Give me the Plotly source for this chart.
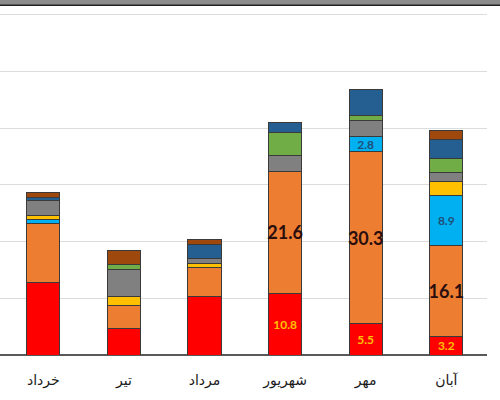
import plotly.graph_objects as go

months = ["خرداد", "تیر", "مرداد", "شهریور", "مهر", "آبان"]

red_vals    = [12.75, 4.73, 10.4, 10.8, 5.5, 3.2]
orange_vals = [10.35, 3.99, 5.06, 21.6, 30.3, 16.1]
cyan_vals   = [0.83, 0.0, 0.0, 0.0, 2.8, 8.9]
yellow_vals = [0.64, 1.59, 0.7, 0.0, 0.0, 2.35]
gray_vals   = [2.6, 4.85, 0.83, 2.7, 2.77, 1.66]
green_vals  = [0.0, 0.85, 0.0, 4.06, 0.88, 2.35]
blue_vals   = [0.65, 0.0, 2.47, 1.83, 4.59, 3.35]
brown_vals  = [0.88, 2.38, 0.83, 0.0, 0.0, 1.59]

red_show    = [False, False, False, True, True, True]
orange_show = [False, False, False, True, True, True]
cyan_show   = [False, False, False, False, True, True]

series = [
    ("red", red_vals, "#FF0000", red_show, dict(color="#FFC000", size=12, family="Lato")),
    ("orange", orange_vals, "#ED7D31", orange_show, dict(color="#2a0e0e", size=18, family="Lato")),
    ("cyan", cyan_vals, "#00B0F0", cyan_show, dict(color="#1F4E79", size=12, family="Lato")),
    ("yellow", yellow_vals, "#FFC000", None, None),
    ("gray", gray_vals, "#808080", None, None),
    ("green", green_vals, "#70AD47", None, None),
    ("blue", blue_vals, "#255E91", None, None),
    ("brown", brown_vals, "#9E480E", None, None),
]

fig = go.Figure()
for name, vals, col, show, tf in series:
    kw = {}
    if show is not None:
        kw["text"] = [f"<b>{v:.1f}</b>" if s else "" for v, s in zip(vals, show)]
        kw["textposition"] = "inside"
        kw["insidetextanchor"] = "middle"
        kw["textangle"] = 0
        kw["textfont"] = tf
        kw["constraintext"] = "none"
    fig.add_trace(go.Bar(
        x=months, y=vals, name=name,
        marker=dict(color=col, line=dict(color="#3a3a3a", width=1)),
        hoverinfo="skip", **kw))

fig.update_layout(
    barmode="stack",
    bargap=0.59,
    width=500, height=400,
    margin=dict(l=0, r=13, t=9, b=45),
    paper_bgcolor="white", plot_bgcolor="white",
    showlegend=False,
    xaxis=dict(range=[-0.537, 5.505], showgrid=False,
               ticks="outside", ticklen=12, tickcolor="rgba(0,0,0,0)",
               tickfont=dict(family="DejaVu Sans", size=14, color="#1a1a1a"),
               showline=False),
    yaxis=dict(range=[0, 61], dtick=10, showticklabels=False,
               gridcolor="#dcdcdc", gridwidth=1,
               zeroline=True, zerolinecolor="#595959", zerolinewidth=1.5),
    shapes=[
        dict(type="rect", xref="paper", yref="paper", x0=-0.01, x1=1.03,
             y0=1 + 3.5 / 346, y1=1 + 9.5 / 346, fillcolor="#8c8c8c", line=dict(width=0)),
        dict(type="rect", xref="paper", yref="paper", x0=-0.01, x1=1.03,
             y0=1 + 3 / 346, y1=1 + 4.5 / 346, fillcolor="#222222", line=dict(width=0)),
    ],
)

fig.write_html("out.html")
